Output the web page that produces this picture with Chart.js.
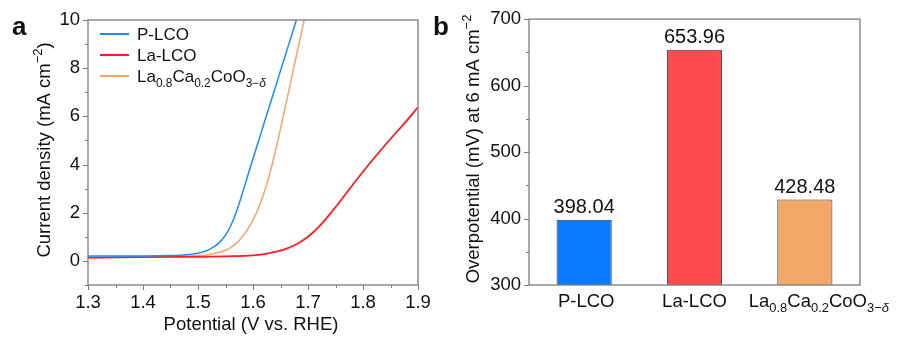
<!DOCTYPE html>
<html>
<head>
<meta charset="utf-8">
<title>OER activity</title>
<script src="https://cdn.jsdelivr.net/npm/chart.js@4.4.1/dist/chart.umd.min.js"></script>
<style>
  body { margin: 0; background: #fff; }
  #wrap { position: relative; width: 902px; height: 338px; overflow: hidden; }
  #lsvChart { position: absolute; left: 0; top: 0; }
  #barChart { position: absolute; left: 420px; top: 0; }
</style>
</head>
<body>
<div id="wrap">
  <canvas id="lsvChart" width="450" height="338"></canvas>
  <canvas id="barChart" width="482" height="338"></canvas>
</div>
<script>
// ---- LSV curves (V vs. RHE, mA cm-2) ----
const potentialPLCO = [1.30, 1.35, 1.40, 1.45, 1.48, 1.50, 1.51, 1.52, 1.53, 1.54, 1.55, 1.56, 1.57, 1.58, 1.59, 1.60, 1.61, 1.62, 1.63, 1.64, 1.65, 1.66, 1.67, 1.68, 1.69];
const currentPLCO   = [0.20, 0.20, 0.20, 0.22, 0.26, 0.32, 0.38, 0.47, 0.60, 0.79, 1.07, 1.48, 2.05, 2.75, 3.50, 4.24, 4.97, 5.70, 6.43, 7.16, 7.89, 8.62, 9.35, 10.08, 10.8];

const potentialLaLCO = [1.30, 1.40, 1.50, 1.55, 1.60, 1.62, 1.64, 1.66, 1.68, 1.70, 1.72, 1.74, 1.76, 1.78, 1.80, 1.82, 1.84, 1.86, 1.88, 1.90];
const currentLaLCO   = [0.14, 0.16, 0.17, 0.19, 0.23, 0.28, 0.37, 0.50, 0.70, 1.00, 1.42, 1.95, 2.52, 3.12, 3.70, 4.26, 4.80, 5.32, 5.83, 6.38];

const potentialLCCO = [1.30, 1.35, 1.40, 1.45, 1.50, 1.52, 1.54, 1.55, 1.56, 1.57, 1.58, 1.59, 1.60, 1.61, 1.62, 1.63, 1.64, 1.65, 1.66, 1.67, 1.68, 1.69, 1.70];
const currentLCCO   = [0.12, 0.14, 0.16, 0.18, 0.22, 0.27, 0.36, 0.44, 0.56, 0.74, 0.98, 1.30, 1.70, 2.20, 2.82, 3.58, 4.48, 5.48, 6.52, 7.58, 8.64, 9.68, 10.7];

// ---- overpotential at 6 mA cm-2 ----
const samples = ['P-LCO', 'La-LCO', 'La_{0.8}Ca_{0.2}CoO_{3−δ}'];
const overpotential = [398.04, 653.96, 428.48];

// ---- axis ticks ----
const potentialTicks = [1.3, 1.4, 1.5, 1.6, 1.7, 1.8, 1.9];
const potentialTickLabels = ['1.3', '1.4', '1.5', '1.6', '1.7', '1.8', '1.9'];
const currentTicks = [0, 2, 4, 6, 8, 10];
const currentTickLabels = ['0', '2', '4', '6', '8', '10'];
const overpotTicks = [300, 400, 500, 600, 700];
const overpotTickLabels = ['300', '400', '500', '600', '700'];

const lineColors = ['#1f8cff', '#ff1e1e', '#f5a46c'];
const barColors = ['#0a7bff', '#ff4b4f', '#f2a766'];

const FONT = '"Liberation Sans", Arial, Helvetica, sans-serif';
const INK = '#111';
const AXIS = '#7c7c7c';
const TXT = 18.5;

// "_{..}" -> subscript, "^{..}" -> superscript
function parseRich(str) {
  const parts = [];
  const re = /([_^])\{([^}]*)\}/g;
  let last = 0, m;
  while ((m = re.exec(str)) !== null) {
    if (m.index > last) parts.push({ text: str.slice(last, m.index), mode: '' });
    parts.push({ text: m[2], mode: m[1] });
    last = re.lastIndex;
  }
  if (last < str.length) parts.push({ text: str.slice(last), mode: '' });
  return parts;
}

function richRuns(str, size) {
  const out = [];
  parseRich(str).forEach(p => {
    const s = p.mode ? size * 0.7 : size;
    const dy = p.mode === '_' ? size * 0.28 : p.mode === '^' ? -size * 0.4 : 0;
    // delta gets an italic face
    p.text.split(/(δ)/).filter(Boolean).forEach(t => {
      out.push({ t, font: (t === 'δ' ? 'italic ' : '') + s + 'px ' + FONT, dy });
    });
  });
  return out;
}

function drawRich(ctx, str, x, y, size, align) {
  const runs = richRuns(str, size);
  let w = 0;
  runs.forEach(r => { ctx.font = r.font; r.w = ctx.measureText(r.t).width; w += r.w; });
  let cx = align === 'center' ? x - w / 2 : align === 'right' ? x - w : x;
  ctx.textAlign = 'left';
  ctx.textBaseline = 'alphabetic';
  runs.forEach(r => { ctx.font = r.font; ctx.fillText(r.t, cx, y + r.dy); cx += r.w; });
}

function drawRotated(ctx, str, cx, cy, size) {
  ctx.save();
  ctx.translate(cx, cy);
  ctx.rotate(-Math.PI / 2);
  drawRich(ctx, str, 0, size * 0.36, size, 'center');
  ctx.restore();
}

function midpoints(ticks) {
  const out = [];
  for (let i = 0; i < ticks.length - 1; i++) out.push((ticks[i] + ticks[i + 1]) / 2);
  return out;
}

// box around the plot plus outward major/minor tick marks
const framePlugin = {
  id: 'frame',
  afterDatasetsDraw(chart, args, opts) {
    const { ctx, chartArea: a, scales } = chart;
    ctx.save();
    ctx.strokeStyle = AXIS;
    ctx.lineWidth = 1.3;
    ctx.strokeRect(a.left, a.top, a.right - a.left, a.bottom - a.top);
    ctx.beginPath();
    const xt = (vals, len) => vals.forEach(v => {
      const px = Math.round(scales.x.getPixelForValue(v)) + 0.5;
      ctx.moveTo(px, a.bottom); ctx.lineTo(px, a.bottom + len);
    });
    const yt = (vals, len) => vals.forEach(v => {
      const py = Math.round(scales.y.getPixelForValue(v)) + 0.5;
      ctx.moveTo(a.left, py); ctx.lineTo(a.left - len, py);
    });
    xt(opts.xMajor || [], 5); xt(opts.xMinor || [], 3);
    yt(opts.yMajor || [], 5); yt(opts.yMinor || [], 3);
    ctx.lineWidth = 1;
    ctx.stroke();
    ctx.restore();
  }
};

// titles, legend and panel letters
const textPlugin = {
  id: 'texts',
  afterDraw(chart, args, opts) {
    const { ctx } = chart;
    ctx.save();
    ctx.fillStyle = INK;
    if (opts.letter) {
      ctx.font = 'bold 26px ' + FONT;
      ctx.textAlign = 'left';
      ctx.textBaseline = 'alphabetic';
      ctx.fillText(opts.letter.text, opts.letter.x, opts.letter.y);
    }
    if (opts.yTitle) drawRotated(ctx, opts.yTitle.text, opts.yTitle.x, opts.yTitle.y, TXT);
    if (opts.xTitle) drawRich(ctx, opts.xTitle.text, opts.xTitle.x, opts.xTitle.y, TXT, 'center');
    if (opts.legend) {
      const L = opts.legend;
      chart.data.datasets.forEach((ds, i) => {
        const y = L.y + i * L.gap;
        ctx.strokeStyle = ds.borderColor;
        ctx.lineWidth = 2;
        ctx.beginPath();
        ctx.moveTo(L.x, y); ctx.lineTo(L.x + 29, y);
        ctx.stroke();
        ctx.fillStyle = INK;
        drawRich(ctx, ds.label, L.x + 37, y + 17 * 0.36, 17, 'left');
      });
    }
    if (opts.categories) {
      const xs = chart.scales.x;
      const dx = opts.categories.dx || [];
      chart.data.labels.forEach((lab, i) => {
        drawRich(ctx, lab, xs.getPixelForValue(i) + (dx[i] || 0), opts.categories.y, TXT, 'center');
      });
    }
    if (opts.values) {
      const meta = chart.getDatasetMeta(0);
      meta.data.forEach((bar, i) => {
        ctx.font = '20px ' + FONT;
        ctx.textAlign = 'center';
        ctx.textBaseline = 'alphabetic';
        ctx.fillText(chart.data.datasets[0].data[i].toFixed(2), bar.x, bar.y - 6.5);
      });
    }
    ctx.restore();
  }
};

const tickFont = { family: FONT, size: TXT };
const toPoints = (xs, ys) => xs.map((x, i) => ({ x, y: ys[i] }));
const lineSet = (label, xs, ys, color, width) => ({
  label, data: toPoints(xs, ys), borderColor: color, borderWidth: width,
  pointRadius: 0, fill: false, cubicInterpolationMode: 'monotone'
});

new Chart(document.getElementById('lsvChart'), {
  type: 'line',
  data: {
    datasets: [
      lineSet(samples[0], potentialPLCO, currentPLCO, lineColors[0], 1.5),
      lineSet(samples[1], potentialLaLCO, currentLaLCO, lineColors[1], 1.8),
      lineSet(samples[2], potentialLCCO, currentLCCO, lineColors[2], 1.5)
    ]
  },
  options: {
    responsive: false,
    animation: false,
    events: [],
    layout: { padding: { left: 0, right: 32, top: 20, bottom: 0 } },
    scales: {
      x: {
        type: 'linear', min: 1.3, max: 1.9,
        grid: { display: false, drawTicks: false },
        border: { display: false },
        afterBuildTicks: s => { s.ticks = potentialTicks.map(value => ({ value })); },
        afterFit: s => { s.height = 53; },
        ticks: { font: tickFont, color: INK, padding: 7, maxRotation: 0,
                 callback: (v, i) => potentialTickLabels[i] }
      },
      y: {
        type: 'linear', min: -1, max: 10,
        grid: { display: false, drawTicks: false },
        border: { display: false },
        afterBuildTicks: s => { s.ticks = currentTicks.map(value => ({ value })); },
        afterFit: s => { s.width = 88; },
        ticks: { font: tickFont, color: INK, padding: 8,
                 callback: (v, i) => currentTickLabels[i] }
      }
    },
    plugins: {
      legend: { display: false },
      tooltip: { enabled: false },
      frame: {
        xMajor: potentialTicks, xMinor: midpoints(potentialTicks),
        yMajor: currentTicks, yMinor: [-1].concat(midpoints(currentTicks))
      },
      texts: {
        letter: { text: 'a', x: 12, y: 35 },
        yTitle: { text: 'Current density (mA cm^{−2})', x: 43, y: 150 },
        xTitle: { text: 'Potential (V vs. RHE)', x: 251, y: 330 },
        legend: { x: 100, y: 34, gap: 21 }
      }
    }
  },
  plugins: [framePlugin, textPlugin]
});

new Chart(document.getElementById('barChart'), {
  type: 'bar',
  data: {
    labels: samples,
    datasets: [{
      data: overpotential,
      backgroundColor: barColors,
      borderColor: '#3c3c3c',
      borderWidth: 1,
      borderSkipped: false,
      barPercentage: 0.5,
      categoryPercentage: 1.0
    }]
  },
  options: {
    responsive: false,
    animation: false,
    events: [],
    layout: { padding: { left: 0, right: 42, top: 19, bottom: 0 } },
    scales: {
      x: {
        grid: { display: false, drawTicks: false },
        border: { display: false },
        afterFit: s => { s.height = 53; },
        ticks: { display: false }
      },
      y: {
        type: 'linear', min: 300, max: 700,
        grid: { display: false, drawTicks: false },
        border: { display: false },
        afterBuildTicks: s => { s.ticks = overpotTicks.map(value => ({ value })); },
        afterFit: s => { s.width = 109; },
        ticks: { font: tickFont, color: INK, padding: 8,
                 callback: (v, i) => overpotTickLabels[i] }
      }
    },
    plugins: {
      legend: { display: false },
      tooltip: { enabled: false },
      frame: { yMajor: overpotTicks, yMinor: midpoints(overpotTicks) },
      texts: {
        letter: { text: 'b', x: 13, y: 35 },
        yTitle: { text: 'Overpotential (mV) at 6 mA cm^{−2}', x: 52, y: 149 },
        categories: { y: 307, dx: [2, 0, 14] },
        values: true
      }
    }
  },
  plugins: [framePlugin, textPlugin]
});
</script>
</body>
</html>
